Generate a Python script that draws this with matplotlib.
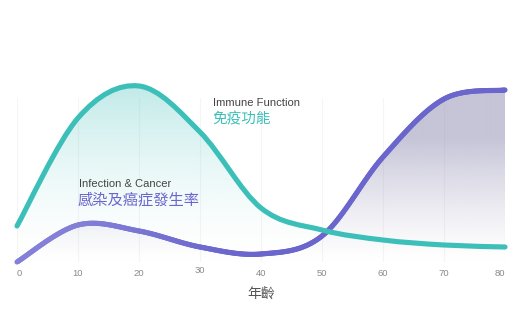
import matplotlib
matplotlib.use("Agg")
import matplotlib.pyplot as plt
import numpy as np
from matplotlib.path import Path
from matplotlib.patches import PathPatch
from matplotlib.collections import LineCollection
from matplotlib.colors import to_rgb
import matplotlib.transforms as mtrans

plt.rcParams['font.family'] = ['Liberation Sans', 'Noto Sans CJK TC', 'DejaVu Sans']

ages = [0, 10, 20, 30, 40, 50, 60, 70, 80]
immune = [18, 72, 88, 65, 27, 16, 11, 8.5, 7.5]
infection = [0, 18.5, 15.5, 7.5, 4, 13, 52.5, 81.5, 86]
tick_vals = [0, 10, 20, 30, 40, 50, 60, 70, 80]

teal = '#3cbfb9'
purple = '#6a66cc'
purple_light = '#8480d8'


def smooth_path(xs, ys, close=False):
    # catmull-rom -> cubic bezier
    p = np.column_stack([xs, ys]).astype(float)
    n = len(p)
    verts = [p[0]]
    codes = [Path.MOVETO]
    for i in range(n - 1):
        p0 = p[max(i - 1, 0)]
        p1 = p[i]
        p2 = p[i + 1]
        p3 = p[min(i + 2, n - 1)]
        c1 = p1 + (p2 - p0) / 6
        c2 = p2 - (p3 - p1) / 6
        verts += [c1, c2, p2]
        codes += [Path.CURVE4] * 3
    if close:
        verts += [(xs[-1], 0), (xs[0], 0), p[0]]
        codes += [Path.LINETO, Path.LINETO, Path.CLOSEPOLY]
    return Path(verts, codes)


def sample_path(path, k=40):
    v = path.vertices
    out = [v[0]]
    s = np.linspace(0, 1, k + 1)[1:, None]
    for i in range(1, len(v), 3):
        a, b, c, d = v[i - 1], v[i], v[i + 1], v[i + 2]
        pts = ((1 - s) ** 3) * a + 3 * ((1 - s) ** 2) * s * b + \
            3 * (1 - s) * s ** 2 * c + s ** 3 * d
        out.extend(pts)
    return np.array(out)


def gradient_fill(ax, xs, ys, color, amax, top, power=1.0):
    r, g, b = to_rgb(color)
    yy = np.linspace(0, 100, 400)
    a = np.clip(yy / top, 0, 1) ** power * amax
    img = np.zeros((400, 2, 4))
    img[..., 0] = r
    img[..., 1] = g
    img[..., 2] = b
    img[..., 3] = a[:, None]
    im = ax.imshow(img, extent=[0, 80, 0, 100], origin='lower', aspect='auto',
                   interpolation='bilinear', zorder=1)
    patch = PathPatch(smooth_path(xs, ys, close=True), facecolor='none',
                      edgecolor='none', transform=ax.transData)
    ax.add_patch(patch)
    im.set_clip_path(patch)


fig = plt.figure(figsize=(5.19, 3.09), dpi=100)
ax = fig.add_axes([17 / 519, 1 - 262 / 309, 488 / 519, 200 / 309])
ax.set_xlim(0, 80)
ax.set_ylim(0, 100)

ax.vlines(tick_vals, 0, 82, color='#f5f5f5', lw=0.8, zorder=0)
ax.axhline(0, color='#eeeeee', lw=0.8, zorder=0)

gradient_fill(ax, ages, infection, '#8d8ab0', 0.5, 62, 1.3)
gradient_fill(ax, ages, immune, '#3cbfb9', 0.32, 88, 1.6)

# purple line, lighter on the left
pts = sample_path(smooth_path(ages, infection))
segs = np.stack([pts[:-1], pts[1:]], axis=1)
mid = (pts[:-1, 0] + pts[1:, 0]) / 2
t = np.clip((mid - 10) / 25, 0, 1)[:, None]
cols = (1 - t) * np.array(to_rgb(purple_light)) + t * np.array(to_rgb(purple))
lc = LineCollection(segs, colors=cols, lw=3.7, capstyle='round', zorder=3,
                    clip_on=False)
ax.add_collection(lc)

ax.add_patch(PathPatch(smooth_path(ages, immune), facecolor='none',
                       edgecolor=teal, lw=3.7, capstyle='round', zorder=4,
                       clip_on=False))

for s in ax.spines.values():
    s.set_visible(False)
ax.set_yticks([])
ax.set_xticks(tick_vals)
ax.set_xticklabels([str(t) for t in tick_vals])
ax.tick_params(axis='x', length=0, pad=5, labelsize=6.8, labelcolor='#8a8a8a')
labels = ax.get_xticklabels()
labels[0].set_horizontalalignment('left')
labels[-1].set_horizontalalignment('right')
labels[3].set_transform(labels[3].get_transform() +
                        mtrans.ScaledTranslation(0, 3 / 100, fig.dpi_scale_trans))
ax.set_xlabel('年齡', fontsize=10, color='#555555', labelpad=6,
              family=['Noto Sans CJK TC'])

ax.text(32.2, 79.5, 'Immune Function', fontsize=8.1, color='#444444',
        va='center', ha='left')
ax.text(32.0, 71.5, '免疫功能', fontsize=10.5, color=teal, va='center',
        ha='left', family=['Noto Sans CJK TC'])
ax.text(10.2, 39, 'Infection & Cancer', fontsize=8.0, color='#444444',
        va='center', ha='left')
ax.text(10.0, 31, '感染及癌症發生率', fontsize=11, color=purple, va='center',
        ha='left', family=['Noto Sans CJK TC'])

fig.savefig('out.png', dpi=100)
